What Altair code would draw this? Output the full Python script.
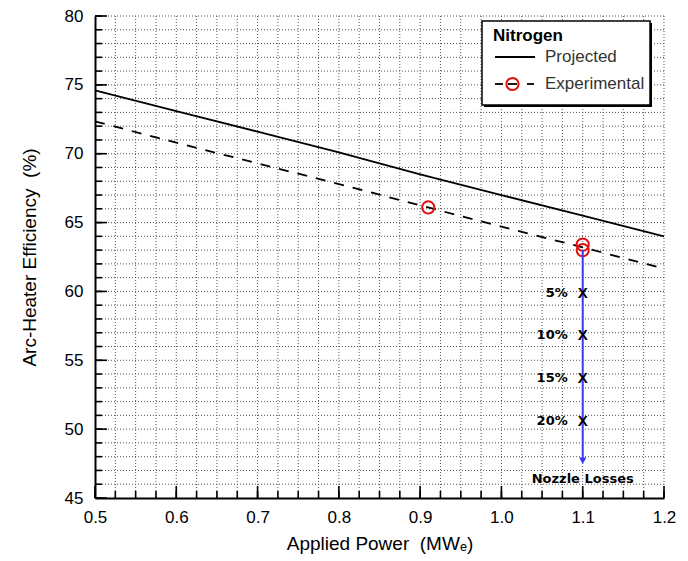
import altair as alt
import pandas as pd

# ---------------- data ----------------
power = [0.5, 0.6, 0.7, 0.8, 0.9, 1.0, 1.1, 1.2]
projected = [74.6, 73.1, 71.6, 70.1, 68.5, 67.0, 65.5, 64.0]
experimental_fit = [72.35, 70.8, 69.3, 67.8, 66.25, 64.7, 63.2, 61.65]

exp_power = [0.91, 1.1, 1.1]
exp_eff = [66.1, 63.4, 63.0]

loss_labels = ["5%", "10%", "15%", "20%"]
loss_eff = [59.9, 56.8, 53.7, 50.6]
loss_power = 1.1

arrow_power = 1.1
arrow_start = 63.0
arrow_end = 47.7
nozzle_label = "Nozzle Losses"
nozzle_eff = 46.85

x_major = [0.5, 0.6, 0.7, 0.8, 0.9, 1.0, 1.1, 1.2]
y_major = [45, 50, 55, 60, 65, 70, 75, 80]
x_minor = [round(0.5 + 0.025 * k, 3) for k in range(29)]
y_minor = list(range(45, 81))

FONT = "Liberation Sans"
BOLD_FONT = "DejaVu Sans"
W, H = 569, 482
X_DOM = [0.5, 1.2]
Y_DOM = [45, 80]

xs = alt.Scale(domain=X_DOM, nice=False, zero=False)
ys = alt.Scale(domain=Y_DOM, nice=False, zero=False)

MAJ_LEN, MIN_LEN = 12, 7

xaxis = alt.Axis(values=x_major, format=".1f", ticks=False, tickSize=0, grid=False,
                 labelFlush=False, domainColor="black", domainWidth=2,
                 labelFont=FONT, labelFontSize=17, labelColor="black", labelPadding=11,
                 title="Applied Power \u00a0(MWₑ)",
                 titleFont=FONT, titleFontSize=19, titleFontWeight="normal",
                 titleColor="black", titlePadding=9)
yaxis = alt.Axis(values=y_major, format="d", ticks=False, tickSize=0, grid=False,
                 labelFlush=False, domainColor="black", domainWidth=2,
                 labelFont=FONT, labelFontSize=17, labelColor="black", labelPadding=12,
                 title="Arc-Heater Efficiency \u00a0(%)",
                 titleFont=FONT, titleFontSize=19, titleFontWeight="normal",
                 titleColor="black", titlePadding=25)


def X(field):
    return alt.X(field, type="quantitative", scale=xs, axis=xaxis)


def Y(field):
    return alt.Y(field, type="quantitative", scale=ys, axis=yaxis)


curve_df = pd.DataFrame({"power": power, "projected": projected, "experimental": experimental_fit})
exp_df = pd.DataFrame({"power": exp_power, "eff": exp_eff})
loss_df = pd.DataFrame({"power": [loss_power] * len(loss_labels), "eff": loss_eff, "label": loss_labels})
arrow_df = pd.DataFrame({"power": [arrow_power], "y1": [arrow_start], "y2": [arrow_end]})
nozzle_df = pd.DataFrame({"power": [arrow_power], "eff": [nozzle_eff], "label": [nozzle_label]})
one = pd.DataFrame({"a": [0]})

# grid
xgrid = alt.Chart(pd.DataFrame({"gx": x_minor[1:]})).mark_rule(
    color="#555555", strokeDash=[1, 2], strokeWidth=1).encode(x=X("gx"))
ygrid = alt.Chart(pd.DataFrame({"gy": y_minor[1:]})).mark_rule(
    color="#555555", strokeDash=[1, 2], strokeWidth=1).encode(y=Y("gy"))


# inward ticks drawn as stroked symbol paths (length = sqrt(size) pixels)
def xticks(vals, length):
    df = pd.DataFrame({"tx": vals, "ty": [Y_DOM[0]] * len(vals)})
    return alt.Chart(df).mark_point(shape="M0,0V-2", filled=False, color="black",
                                    strokeWidth=1.6, size=length * length, opacity=1).encode(
        x=X("tx"), y=Y("ty"))


def yticks(vals, length):
    df = pd.DataFrame({"ty": vals, "tx": [X_DOM[0]] * len(vals)})
    return alt.Chart(df).mark_point(shape="M0,0H2", filled=False, color="black",
                                    strokeWidth=1.6, size=length * length, opacity=1).encode(
        x=X("tx"), y=Y("ty"))


xmin_t = xticks(x_minor, MIN_LEN)
xmaj_t = xticks(x_major, MAJ_LEN)
ymin_t = yticks(y_minor, MIN_LEN)
ymaj_t = yticks(y_major, MAJ_LEN)

proj_line = alt.Chart(curve_df).mark_line(color="black", strokeWidth=1.8).encode(
    x=X("power"), y=Y("projected"))
exp_line = alt.Chart(curve_df).mark_line(color="black", strokeWidth=1.8, strokeDash=[10, 9]).encode(
    x=X("power"), y=Y("experimental"))

exp_pts = alt.Chart(exp_df).mark_point(shape="circle", filled=False, color="#e01010",
                                        size=150, strokeWidth=2, opacity=1).encode(
    x=X("power"), y=Y("eff"))

arrow = alt.Chart(arrow_df).mark_rule(color="#3a3af0", strokeWidth=2).encode(
    x=X("power"), y=Y("y1"), y2="y2:Q")
arrow_head = alt.Chart(arrow_df).mark_point(shape="triangle-down", filled=True, color="#3a3af0",
                                            size=55, opacity=1).encode(
    x=X("power"), y=Y("y2"))

loss_x = alt.Chart(loss_df).mark_text(text="X", font=FONT, fontSize=15, fontWeight="bold",
                                      color="black").encode(x=X("power"), y=Y("eff"))
loss_txt = alt.Chart(loss_df).mark_text(font=BOLD_FONT, fontSize=13, fontWeight="bold", color="black",
                                        align="right", dx=-15).encode(
    x=X("power"), y=Y("eff"), text="label:N")
nozzle = alt.Chart(nozzle_df).mark_text(font=BOLD_FONT, fontSize=13, fontWeight="bold", color="black",
                                        align="center", baseline="top").encode(
    x=X("power"), y=Y("eff"), text="label:N")

# legend box (drawn in pixel space)
lx0, lx1, ly0, ly1 = 387, 555, 5, 89
legend_shadow = alt.Chart(one).mark_rect(color="black").encode(
    x=alt.value(lx0 + 2), x2=alt.value(lx1 + 2), y=alt.value(ly0 + 2), y2=alt.value(ly1 + 2))
legend_box = alt.Chart(one).mark_rect(fill="white", stroke="black", strokeWidth=1.5).encode(
    x=alt.value(lx0), x2=alt.value(lx1), y=alt.value(ly0), y2=alt.value(ly1))
legend_title = alt.Chart(one).mark_text(text="Nitrogen", font=FONT, fontSize=17, fontWeight="bold",
                                        align="left", baseline="middle", color="black").encode(
    x=alt.value(398), y=alt.value(20))
leg_proj_line = alt.Chart(one).mark_rule(color="black", strokeWidth=1.8).encode(
    x=alt.value(400), x2=alt.value(440), y=alt.value(41))
leg_proj_txt = alt.Chart(one).mark_text(text="Projected", font=FONT, fontSize=17, align="left",
                                        baseline="middle", color="#333333").encode(
    x=alt.value(450), y=alt.value(41))
leg_dash1 = alt.Chart(one).mark_rule(color="black", strokeWidth=1.8).encode(
    x=alt.value(400), x2=alt.value(408), y=alt.value(68))
leg_dash2 = alt.Chart(one).mark_rule(color="black", strokeWidth=1.8).encode(
    x=alt.value(413), x2=alt.value(422), y=alt.value(68))
leg_dash3 = alt.Chart(one).mark_rule(color="black", strokeWidth=1.8).encode(
    x=alt.value(432), x2=alt.value(439), y=alt.value(68))
leg_exp_circ = alt.Chart(one).mark_point(shape="circle", filled=False, color="#e01010", size=150,
                                         strokeWidth=2, opacity=1).encode(
    x=alt.value(417.5), y=alt.value(68))
leg_exp_txt = alt.Chart(one).mark_text(text="Experimental", font=FONT, fontSize=17, align="left",
                                       baseline="middle", color="#333333").encode(
    x=alt.value(450), y=alt.value(68))

chart = alt.layer(
    xgrid, ygrid, xmin_t, xmaj_t, ymin_t, ymaj_t,
    proj_line, exp_line, exp_pts, arrow, arrow_head, loss_x, loss_txt, nozzle,
    legend_shadow, legend_box, legend_title, leg_proj_line, leg_proj_txt,
    leg_dash1, leg_dash2, leg_dash3, leg_exp_circ, leg_exp_txt,
).properties(
    width=W, height=H,
    autosize=alt.AutoSizeParams(type="none"),
    padding={"left": 95, "top": 16, "right": 24, "bottom": 63},
    background="white",
).configure_view(stroke=None)

chart.save("out.html", embed_options={"renderer": "svg", "actions": False})
